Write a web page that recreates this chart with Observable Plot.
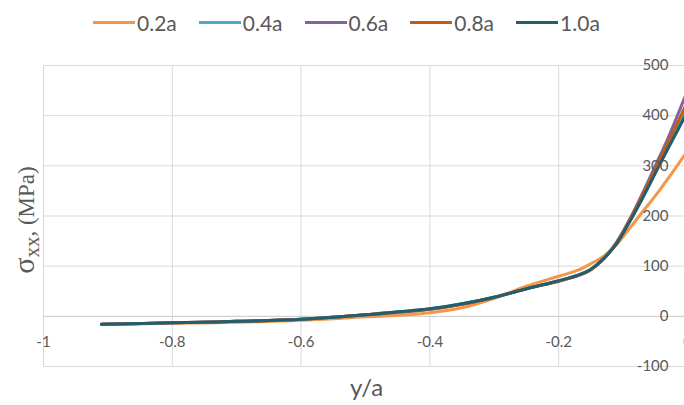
<!DOCTYPE html>
<html><head><meta charset="utf-8">
<script src="https://cdn.jsdelivr.net/npm/d3@7"></script>
<script src="https://cdn.jsdelivr.net/npm/@observablehq/plot@0.6"></script>
<style>
html,body{margin:0;padding:0;background:#fff;overflow:hidden;width:684px;height:405px}
#legend{height:44px;display:flex;align-items:center;padding-left:93px;gap:22px;font-family:Lato,sans-serif;font-size:21px;color:#595959}
.item{display:flex;align-items:center}
.sw{width:42px;height:3px;margin-right:2px}
#chart svg{overflow:hidden;display:block}
#chart svg text.ylab{font-family:"Liberation Serif","DejaVu Serif",serif}
</style></head><body>
<div id="legend"></div><div id="chart"></div>
<script>
const series = ["0.2a","0.4a","0.6a","0.8a","1.0a"];
const colors = ["#F79646","#4BACC6","#8064A2","#C55A11","#215F6E"];
const xs  = [-0.91,-0.8,-0.7,-0.6,-0.5,-0.45,-0.4,-0.35,-0.3,-0.25,-0.2,-0.17,-0.15,-0.13,-0.11,-0.09,-0.07,-0.05,-0.03,0];
const v02 = [-16,-14,-12,-8,-1,2,7,17,36,60,80,92,105,120,143,175,208,240,275,330];
const v04 = [-16,-13,-10,-6,3,9,15,25,38,55,71,82,94,116,147,190,239,290,342,418];
const v06 = [-16,-13,-10,-6,3,8,14,24,38,55,70,81,93,115,148,193,245,300,356,450];
const v08 = [-16,-13,-10,-6,3,8,14,24,38,55,70,81,93,115,147,191,241,294,347,428];
const v10 = [-16,-13,-10,-6,3,9,15,25,38,55,71,82,94,115,145,188,235,285,335,408];
const yTicks = [-100,0,100,200,300,400,500];
const xTicks = [-1,-0.8,-0.6,-0.4,-0.2,0];
const xTickLabels = ["-1","-0.8","-0.6","-0.4","-0.2","0"];
const xTitle = "y/a";

const vals = [v02,v04,v06,v08,v10];
const rows = series.flatMap((s,i)=>xs.map((x,j)=>({series:s,x,y:vals[i][j]})));

const legend = document.getElementById("legend");
series.forEach((s,i)=>{
  const it = document.createElement("div"); it.className="item";
  const sw = document.createElement("div"); sw.className="sw"; sw.style.background=colors[i];
  const tx = document.createElement("span"); tx.textContent=s;
  it.appendChild(sw); it.appendChild(tx); legend.appendChild(it);
});

const chart = Plot.plot({
  width:684, height:361, margin:0,
  x:{domain:[-1,0], range:[43,687], axis:null},
  y:{domain:[-100,500], range:[322,21], axis:null},
  color:{domain:series, range:colors},
  style:{fontFamily:"Lato, sans-serif", background:"#fff", overflow:"hidden"},
  marks:[
    Plot.ruleY(yTicks.filter(d=>d!==0), {y:d=>d, x1:-1, x2:0.02, stroke:"#d9d9d9", strokeWidth:1}),
    Plot.ruleX(xTicks.slice(0,5), {x:d=>d, y1:-100, y2:500, stroke:"#d9d9d9", strokeWidth:1}),
    Plot.ruleY([0], {y:d=>d, x1:-1, x2:0.02, stroke:"#c8c8c8", strokeWidth:1}),
    Plot.line(rows, {x:"x", y:"y", z:"series", stroke:"series", strokeWidth:3, curve:"catmull-rom"}),
    Plot.text(yTicks, {x:0, y:d=>d, text:d=>String(d), dx:-19, textAnchor:"end", fill:"#595959", fontSize:15}),
    Plot.text(xTicks, {x:d=>d, y:0, text:(d,i)=>xTickLabels[i], dy:26, fill:"#595959", fontSize:15}),
    Plot.text([xTitle], {x:-0.4984, y:-100, text:d=>d, dy:22, fill:"#595959", fontSize:24})
  ]
});
document.getElementById("chart").appendChild(chart);

const svg = d3.select(chart);
const t = svg.append("text")
  .attr("class","ylab")
  .attr("transform","translate(34,176) rotate(-90)")
  .attr("text-anchor","middle")
  .attr("fill","#595959")
  .style("font-family","'Liberation Serif', 'DejaVu Serif', serif")
  .style("font-size","23px");
t.append("tspan").style("font-size","30px").text("σ");
t.append("tspan").style("font-size","21px").attr("dy",5).text("xx");
t.append("tspan").attr("dy",-5).text(", (MPa)");
</script></body></html>
